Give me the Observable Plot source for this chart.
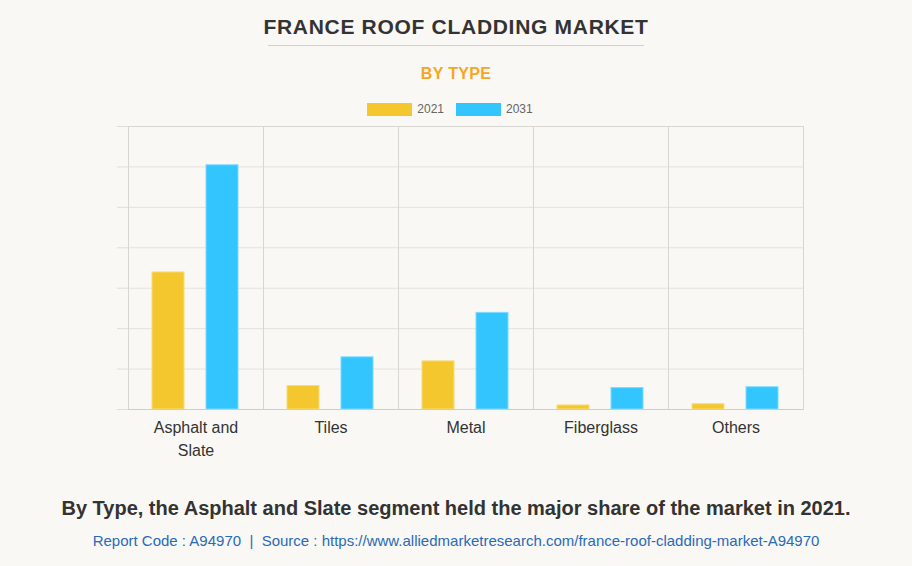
<!DOCTYPE html>
<html>
<head>
<meta charset="utf-8">
<script src="https://cdn.jsdelivr.net/npm/d3@7"></script>
<script src="https://cdn.jsdelivr.net/npm/@observablehq/plot@0.6"></script>
<style>
  html, body { margin: 0; padding: 0; background: #f9f8f4; }
  body { width: 912px; height: 566px; position: relative; overflow: hidden; font-family: "Liberation Sans", Arial, sans-serif; }
  #title { position: absolute; top: 15px; left: 0; width: 912px; text-align: center; font-weight: bold; font-size: 21px; letter-spacing: 0.7px; color: #333; }
  #rule { position: absolute; top: 45px; left: 268px; width: 376px; height: 0; border-top: 1.5px solid #cfcfcf; }
  #sub { position: absolute; top: 65px; left: 0; width: 912px; text-align: center; font-weight: bold; font-size: 16px; color: #f6a623; letter-spacing: 0.3px; }
  #legend { position: absolute; top: 102px; left: -6px; width: 912px; display: flex; justify-content: center; gap: 12px; font-size: 12px; color: #666; }
  #legend .it { display: flex; align-items: center; gap: 5px; }
  #legend .sw { width: 45px; height: 13px; display: inline-block; }
  #chart { position: absolute; top: 116px; left: 0; }
  #caption { position: absolute; top: 497px; left: 0; width: 912px; text-align: center; font-weight: bold; font-size: 20px; color: #333; }
  #source { position: absolute; top: 532px; left: 0; width: 912px; text-align: center; font-size: 15px; color: #2a6ab8; }
</style>
</head>
<body>
<div id="title">FRANCE ROOF CLADDING MARKET</div>
<div id="rule"></div>
<div id="sub">BY TYPE</div>
<div id="legend"></div>
<div id="chart"></div>
<div id="caption">By Type, the Asphalt and Slate segment held the major share of the market in 2021.</div>
<div id="source">Report Code : A94970 &nbsp;|&nbsp; Source : https://www.alliedmarketresearch.com/france-roof-cladding-market-A94970</div>
<script>
const categories = ["Asphalt and Slate", "Tiles", "Metal", "Fiberglass", "Others"];
const categoryLabels = ["Asphalt and\nSlate", "Tiles", "Metal", "Fiberglass", "Others"];
const years = ["2021", "2031"];
const values2021 = [339, 58, 119, 10, 13];
const values2031 = [604, 129, 239, 53, 55];
const yTicks = [0, 100, 200, 300, 400, 500, 600, 700];
const colors = ["#f4c72f", "#33c5fe"];

const data = [];
categories.forEach((c, i) => {
  data.push({category: c, year: years[0], value: values2021[i]});
  data.push({category: c, year: years[1], value: values2031[i]});
});

const legend = document.getElementById("legend");
years.forEach((y, i) => {
  const it = document.createElement("div");
  it.className = "it";
  it.innerHTML = `<span class="sw" style="background:${colors[i]}"></span><span>${y}</span>`;
  legend.appendChild(it);
});

const labelOf = new Map(categories.map((c, i) => [c, categoryLabels[i]]));

const chart = Plot.plot({
  width: 912,
  height: 360,
  marginLeft: 127,
  marginRight: 108,
  marginTop: 10,
  marginBottom: 67,
  style: {background: "transparent", fontFamily: "Liberation Sans, Arial, sans-serif"},
  fx: {domain: categories, padding: 0, label: null},
  x: {domain: years, paddingInner: 0.4, paddingOuter: 0.44, axis: null},
  y: {domain: [0, 700], axis: null, label: null},
  color: {domain: years, range: colors},
  marks: [
    Plot.gridY(yTicks, {stroke: "#e4e2dc", strokeOpacity: 1}),
    Plot.frame({stroke: "#d8d6d0"}),
    Plot.axisY(yTicks, {tickSize: 11, tickFormat: () => "", stroke: "#e0ded8", label: null}),
    Plot.barY(data, {fx: "category", x: "year", y: "value", fill: "year", stroke: d => d.year === "2021" ? "#f8dc7a" : "#7fd9ff", strokeWidth: 1}),
    Plot.ruleY([0], {stroke: "#cfcdc7"}),
    Plot.axisFx({anchor: "bottom", tickSize: 0, tickPadding: 7, fontSize: 16, fill: "#333", lineHeight: 1.45, tickFormat: d => labelOf.get(d), label: null})
  ]
});
document.getElementById("chart").appendChild(chart);
</script>
</body>
</html>
